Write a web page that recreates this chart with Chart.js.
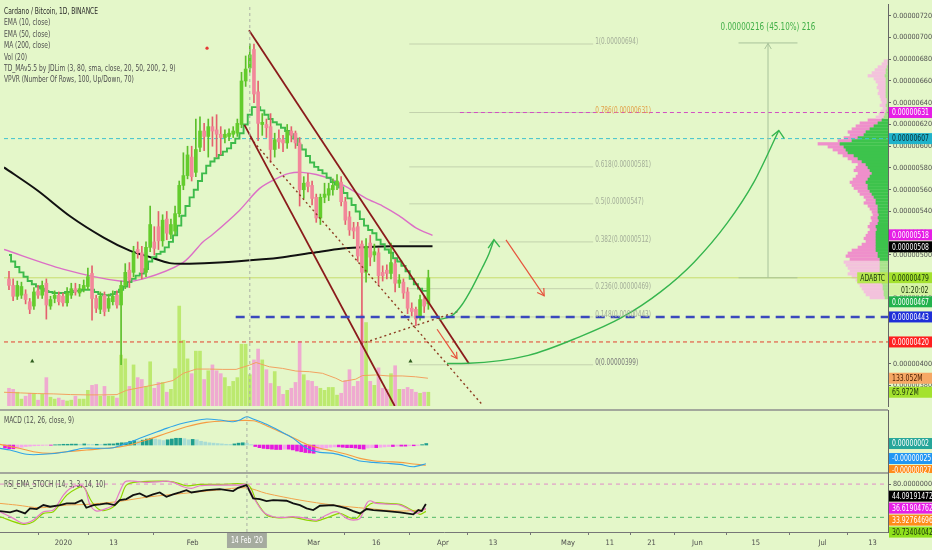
<!DOCTYPE html>
<html lang="en">
<head>
<meta charset="utf-8">
<title>Cardano / Bitcoin, 1D, BINANCE</title>
<script src="https://cdn.jsdelivr.net/npm/chart.js@4.4.1/dist/chart.umd.min.js"></script>
<style>
    html, body { margin: 0; padding: 0; background: #e4f7c9; }
    #stage {
        position: relative; width: 932px; height: 550px; overflow: hidden; background: #e4f7c9;
        font-family: 'Liberation Sans Narrow', 'DejaVu Sans Condensed', sans-serif;
    }
    .pane { position: absolute; left: 0; width: 932px; z-index: 2; }
    #profilePane { left: 768px; width: 120px; top: 0; height: 410px; z-index: 1; }
    #mainPane { top: 0; height: 410px; }
    #macdPane { top: 410px; height: 63px; }
    #rsiPane { top: 473px; height: 77px; }
    .sep { position: absolute; left: 0; width: 888px; height: 2px; background: #a3a89c; z-index: 3; }
    .caption {
        position: absolute; left: 4px; z-index: 4; font-size: 8.5px; line-height: 11.4px;
        color: #505050; white-space: nowrap; transform: scaleX(0.78); transform-origin: 0 0;
    }
    .caption .title { color: #2a2a2a; }
</style>
</head>
<body>
<div id="stage">
    <div class="pane" id="profilePane"><canvas id="profileChart"></canvas></div>
    <div class="pane" id="mainPane"><canvas id="mainChart"></canvas></div>
    <div class="pane" id="macdPane"><canvas id="macdChart"></canvas></div>
    <div class="pane" id="rsiPane"><canvas id="rsiChart"></canvas></div>
    <div class="sep" style="top:409px"></div>
    <div class="sep" style="top:472px"></div>
    <div class="caption" style="top:6px">
        <div class="title">Cardano / Bitcoin, 1D, BINANCE</div>
        <div>EMA (10, close)</div>
        <div>EMA (50, close)</div>
        <div>MA (200, close)</div>
        <div>Vol (20)</div>
        <div>TD_MAv5.5 by JDLim (3, 80, sma, close, 20, 50, 200, 2, 9)</div>
        <div>VPVR (Number Of Rows, 100, Up/Down, 70)</div>
    </div>
    <div class="caption" style="top:415px">MACD (12, 26, close, 9)</div>
    <div class="caption" style="top:479px">RSI_EMA_STOCH (14, 3, 3, 14, 10)</div>
</div>

<script>
// x values are days counted from 1 Jan 2020, prices are in satoshi (1e-8 BTC)
const FIRST_DAY = -14;

const opens = [
    478, 472, 462, 463, 464, 457, 453, 467, 463, 474,
    453, 460, 463, 462, 456, 463, 469, 465, 469, 471,
    483, 460, 450, 463, 451, 457, 463, 454, 472, 486,
    484, 505, 502, 484, 507, 512, 526, 513, 533, 519,
    522, 538, 564, 573, 590, 576, 599, 614, 609, 618,
    615, 611, 608, 609, 611, 612, 620, 660, 672, 689,
    650, 620, 620, 618, 597, 607, 606, 603, 614, 612,
    603, 560, 567, 564, 553, 534, 553, 555, 560, 564,
    567, 549, 535, 525, 526, 510, 484, 511, 500, 502,
    484, 486, 483, 492, 474, 475, 466, 451, 450, 444,
    459, 455
];
const highs = [
    485, 478, 476, 475, 468, 460, 470, 472, 476, 478,
    462, 467, 466, 465, 470, 474, 474, 473, 477, 488,
    490, 463, 466, 466, 464, 467, 467, 476, 492, 493,
    508, 512, 508, 512, 545, 526, 540, 537, 540, 533,
    545, 568, 594, 600, 600, 625, 627, 621, 625, 627,
    629, 618, 615, 616, 618, 625, 668, 683, 694, 694,
    660, 630, 625, 630, 612, 615, 610, 620, 618, 614,
    608, 572, 575, 568, 556, 556, 566, 566, 570, 574,
    572, 553, 540, 530, 530, 513, 515, 518, 510, 506,
    490, 491, 511, 496, 482, 478, 470, 456, 452, 463,
    462, 486
];
const lows = [
    468, 458, 459, 460, 455, 446, 450, 460, 460, 441,
    450, 456, 454, 453, 453, 460, 463, 462, 466, 468,
    440, 447, 446, 444, 448, 454, 451, 399, 469, 470,
    480, 497, 478, 480, 503, 500, 505, 508, 514, 515,
    518, 535, 560, 570, 568, 572, 595, 596, 590, 600,
    590, 592, 603, 605, 608, 609, 617, 655, 668, 640,
    605, 610, 608, 585, 590, 598, 595, 598, 604, 598,
    545, 552, 558, 546, 530, 528, 548, 550, 555, 560,
    545, 528, 518, 515, 494, 418, 475, 490, 494, 472,
    476, 478, 478, 466, 470, 460, 446, 444, 435, 440,
    447, 450
];
const closes = [
    472, 462, 472, 471, 459, 450, 466, 463, 472, 454,
    459, 463, 457, 456, 465, 469, 466, 469, 472, 480,
    460, 451, 462, 448, 460, 462, 454, 472, 484, 477,
    502, 502, 484, 507, 528, 506, 513, 532, 520, 528,
    538, 564, 573, 592, 572, 597, 614, 609, 618, 614,
    611, 608, 611, 612, 614, 621, 660, 671, 684, 648,
    621, 622, 617, 597, 606, 604, 603, 614, 610, 603,
    560, 566, 563, 552, 534, 553, 556, 561, 564, 568,
    549, 532, 523, 522, 499, 484, 508, 498, 503, 481,
    481, 483, 493, 474, 477, 465, 451, 448, 441, 459,
    453, 479
];
// volume in millions of ADA
const volumes = [
    85, 80, 66, 33, 47, 61, 61, 28, 56, 136,
    42, 33, 38, 28, 24, 28, 47, 33, 33, 75,
    99, 103, 47, 94, 47, 47, 38, 244, 226, 94,
    197, 136, 127, 94, 212, 85, 113, 113, 66, 80,
    179, 479, 315, 226, 155, 263, 263, 127, 169, 197,
    169, 155, 136, 94, 118, 136, 296, 296, 150, 221,
    273, 221, 174, 108, 165, 94, 56, 75, 85, 113,
    310, 150, 122, 118, 94, 85, 75, 89, 89, 52,
    61, 122, 174, 94, 118, 437, 400, 118, 99, 183,
    85, 80, 155, 193, 80, 80, 89, 80, 66, 61,
    66, 65.972
];
const ema10 = [
    500, 494, 489, 484, 480, 476, 473, 471, 469, 467,
    466, 465, 465, 465, 466, 466, 467, 467, 468, 468,
    468, 466, 464, 463, 463, 464, 466, 468, 471, 475,
    478, 481, 483, 487, 494, 498, 501, 503, 507, 512,
    518, 527, 536, 545, 553, 560, 568, 575, 582, 586,
    589, 592, 595, 598, 603, 607, 612, 620, 629, 636,
    636, 633, 629, 625, 622, 620, 617, 614, 611, 607,
    601, 597, 591, 585, 581, 578, 575, 571, 567, 565,
    562, 557, 552, 546, 540, 533, 527, 523, 520, 514,
    510, 505, 502, 497, 494, 490, 485, 478, 473, 469,
    467, 467
];
const ema50 = [
    [-15.2, 505], [-1, 487], [12.7, 476], [18.3, 478], [27.9, 493], [32.7, 512], [35.1, 519],
    [41.5, 541], [46.3, 561], [50.3, 570], [53.5, 575], [56.5, 576], [60, 574], [64, 569],
    [68, 561], [72, 552], [76, 545], [80, 536], [84, 525], [88, 518]
];
const ma200 = [
    [-15.2, 580.5], [-7.2, 559.5], [0.8, 535.4], [8.8, 516], [15.1, 504], [20, 498], [24.7, 492.5],
    [29.5, 492], [36.7, 493], [47.1, 496], [52, 498], [59.1, 502], [66.3, 506], [71.1, 507],
    [78.3, 508], [88, 508]
];
const volMa = [
    [-15.2, 65.8], [-11.2, 62.7], [-7.2, 59.5], [-3.2, 58], [0.8, 54.8], [4.8, 53.3], [8.8, 53.3],
    [12, 54.8], [14.3, 75.2], [18.3, 90.9], [22.3, 106.5], [25.5, 122.2], [28, 156.7], [31.1, 177],
    [34.3, 177], [37.5, 175.5], [40.7, 175.5], [43.9, 195.8], [45.5, 208.4], [48.7, 188],
    [51.9, 180.2], [55.1, 167.6], [58.3, 164.5], [61.5, 156.7], [64.7, 133.2], [66.3, 117.5],
    [69.5, 128.5], [71.1, 145.7], [74.3, 148.8], [77.5, 144.1], [80.7, 144.1], [83.9, 140],
    [86.9, 133.052]
];

// MACD pane (values in satoshi)
const macdLine = [
    [-15.2, -4.4], [-12.8, -6.7], [-8.8, -12.4], [-4.8, -12.4], [0.8, -8.9], [4.8, -4.4], [8.8, -4.4],
    [12, -3.6], [15.1, 2.2], [18.3, 8.9], [21.5, 15.6], [24.7, 22.2], [27.9, 28], [31.1, 32],
    [34.3, 34.7], [37.5, 33.3], [40.7, 31.1], [42.3, 33.3], [43.9, 37.8], [45.5, 34.7], [48.7, 27.6],
    [51.9, 18.7], [55.1, 8.9], [58.3, -4.4], [61.5, -9.8], [64.7, -11.1], [67.9, -15.6], [71.1, -21.3],
    [74.3, -23.1], [77.5, -24.4], [80.7, -25.8], [83.9, -28.9], [86.9, -25]
];
const macdSignal = [
    [-15.2, 0.9], [-11.2, -3.6], [-7.2, -8.9], [-3.2, -11.1], [0.8, -8.9], [5.6, -6.7], [10.4, -4.4],
    [15.1, -0.9], [19.9, 6.7], [24.7, 15.6], [29.5, 24.4], [34.3, 30.2], [39.1, 32], [45.5, 32.4],
    [48.7, 25.8], [51.9, 17.8], [55.1, 9.8], [58.3, 0.9], [61.5, -4.4], [64.7, -8], [67.9, -12.4],
    [71.1, -17.8], [74.3, -20.9], [77.5, -22.2], [80.7, -23.1], [83.9, -25.3], [86.9, -27]
];
const macdHist = [
    -4, -5, -5, -4, -3, -2, -1.5, -1, -0.8, -0.5,
    -0.3, -0.3, 0.3, 0.5, 1, 1, 1.2, 1.2, 1, 1.5,
    1, 0.8, 1, 0.8, 1.2, 1.5, 1.5, 2.5, 3, 3,
    5, 6, 5.5, 6.5, 8, 9, 8, 7, 6, 7,
    8, 9, 9, 8.5, 7, 7.5, 7, 5, 4, 3,
    2.5, 2, 1.5, 1, 0.8, 1.5, 2.5, 3, 2.5, 0.5,
    -2, -3.5, -4.5, -5, -5.5, -6, -6, -5.5, -5.5, -6.5,
    -8, -9, -10, -10.5, -11, -8, -6, -4, -3, -2.5,
    -2.5, -3, -3.5, -3.5, -4, -5, -5.5, -4, -3.5, -3.5,
    -3, -2.5, -2, -2, -1.5, -1.5, -1.5, -1, -1, -0.5,
    0.5, 2
];

// RSI / stochastic pane
const rsiLine = [
    [-15.2, 31.3], [-12.8, 29], [-11.2, 32.5], [-9.2, 27.1], [-8, 36.1], [-6.4, 34.9], [-4.8, 42.1],
    [-3.2, 39.1], [-0.8, 42.1], [0.8, 45.1], [2.8, 45.1], [4.4, 51.1], [5.5, 37.3], [7.2, 42.1],
    [8.8, 43.3], [10.4, 45.1], [12.3, 42.1], [13.5, 51.1], [15.1, 52.9], [16.7, 60.1], [18.3, 63.1],
    [19.9, 57.1], [21.5, 61.3], [23.1, 64.9], [24.7, 57.1], [26.3, 61.3], [27.9, 64.9], [29.5, 69.1],
    [30.7, 64.9], [32.7, 67.3], [34.3, 69.1], [37.5, 70.9], [40.7, 67.3], [41.9, 73.3], [43.9, 78.2],
    [45.5, 54.1], [47.1, 52.9], [48.7, 49.3], [50.3, 51.1], [53.5, 49.9], [55.1, 45.1], [56.7, 42.1],
    [58.3, 36.1], [59.9, 33.1], [61.5, 40.9], [64.7, 42.1], [66.3, 39.1], [67.9, 36.1], [69.5, 31.3],
    [71.1, 27.1], [72.7, 34.9], [74.3, 33.1], [77.5, 31.3], [80.7, 28.9], [83.9, 25.3], [85.1, 33.1],
    [85.9, 31.3], [86.9, 44.09191472]
];
const stochK = [
    [-15.2, 30.1], [-12, 18.1], [-9.6, 9.1], [-7.2, 15.1], [-4.8, 30.1], [-2.4, 33.1], [0, 60.1],
    [1.6, 72.1], [4, 78.2], [5.2, 72.1], [6.4, 42.1], [8, 31.3], [10.4, 36.1], [12, 42.1], [13.5, 66.1],
    [14.8, 84.2], [16.7, 85.4], [20, 83], [23.1, 84.2], [24.7, 85.4], [26.3, 83], [28.7, 75.2],
    [30.7, 72.1], [32.7, 77], [35.9, 78.2], [42.3, 78.2], [43.9, 79.4], [45.5, 57.1], [47.9, 30.1],
    [50.3, 21.1], [52.7, 19.9], [55.1, 21.1], [58.3, 18.1], [60.7, 15.1], [63.1, 24.1], [65.5, 30.1],
    [67.9, 18.1], [69.5, 15.1], [71.1, 18.1], [72.7, 45.1], [73.5, 49.9], [75.1, 45.1], [77.5, 43.9],
    [80.7, 42.1], [83.1, 33.1], [84.7, 27.1], [86.9, 36.61904762]
];
const stochD = [
    [-15.2, 21.1], [-9.6, 7.3], [-7.2, 12.1], [-4.8, 27.1], [-2.4, 30.1], [0.8, 60.1], [3.2, 72.1],
    [4.8, 75.2], [6.8, 48.1], [8.8, 33.1], [11.1, 34.9], [13.5, 51.1], [15.1, 78.2], [18.3, 84.2],
    [23.1, 85.4], [26.3, 84.2], [29.5, 77], [32.7, 79.4], [37.5, 79.4], [44.3, 78.2], [46.3, 48.1],
    [48.7, 24.1], [51.1, 19.3], [55.1, 19.9], [58.3, 15.1], [60.7, 13.3], [63.9, 21.1], [66.3, 27.1],
    [68.7, 19.3], [70.3, 18.1], [72.7, 39.1], [74.3, 46.3], [77.5, 45.1], [80.7, 43.3], [83.9, 31.3],
    [85.5, 25.3], [86.9, 30.73404042]
];
const rsiEma = [
    [-15.2, 45.1], [-11.2, 42.1], [-5.6, 37.3], [0.8, 42.1], [5.6, 43.3], [12.7, 48.1], [20.7, 57.1],
    [28.7, 63.1], [36.7, 69.1], [43.9, 73.3], [48.7, 63.1], [56.7, 51.1], [64.7, 42.1], [72.7, 36.1],
    [80.7, 31.3], [86.9, 33.92764696]
];
const rsiBands = [80, 20];

// volume profile rows (bottom row price, step) with up / down volume per row
const PROFILE_LOW = 452;
const PROFILE_STEP = 3;
const profileUp = [
    3, 4, 4, 5, 5, 6, 6, 6, 8, 8, 8, 8, 8, 8, 10, 10, 12, 12, 12, 12,
    12, 12, 12, 11, 12, 10, 9, 10, 9, 10, 10, 10, 12, 12, 14, 16, 18, 20, 20, 22,
    20, 18, 16, 18, 20, 22, 26, 30, 34, 40, 42, 44, 48, 36, 30, 24, 22, 18, 14, 10,
    6, 4, 3, 2, 1, 2, 1, 1, 2, 2, 2, 2, 2, 2, 2, 3, 2, 2, 1, 0, 0
];
const profileDown = [
    15, 18, 20, 21, 23, 24, 26, 30, 32, 30, 32, 34, 36, 30, 32, 30, 24, 18, 14, 10,
    12, 10, 8, 7, 8, 8, 7, 7, 6, 6, 8, 10, 12, 10, 10, 12, 12, 14, 16, 16,
    15, 14, 14, 16, 12, 8, 10, 10, 11, 10, 13, 16, 22, 14, 14, 14, 18, 18, 18, 18,
    14, 8, 6, 5, 4, 6, 5, 6, 6, 8, 7, 9, 8, 10, 12, 17, 14, 11, 9, 6, 4
];

// horizontal levels drawn on the chart
const levelPrices = [631, 607, 443, 420];
const levelStarts = [94.6, null, 40.6, null];
const levelColors = ['#d24fc4', '#3fc3cf', '#3a48bd', '#e2402f'];
const fibRatios = [1, 0.786, 0.618, 0.5, 0.382, 0.236, 0.148, 0];
const fibPrices = [694, 631, 581, 547, 512, 469, 443, 399];
const FIB_FROM = 82.4;
const FIB_TO = 126.7;

// hand drawn trend lines and arrows
const channelUpper = [[43.8, 706.7], [96.8, 399.9]];
const channelLower = [[42.7, 619.6], [78.9, 361.1]];
const channelMid = [[44.1, 607.6], [99.9, 362.6]];
const crashSupport = [[70.7, 418.2], [94.3, 448.3]];
const bounceCurve = [[89.6, 440.6], [92.7, 444.2], [95.1, 454.2], [97.5, 469.5], [99.9, 487.6], [101.6, 501.1], [102.8, 514]];
const bounceHead = [[101.4, 506.3], [102.8, 514], [104.2, 507.2]];
const targetCurve = [[91.5, 400.2], [96.7, 400.4], [111.1, 407.7], [123.1, 424.2], [133.5, 442.3], [143, 466.3], [151, 493.4], [159, 529.5], [165.4, 567], [171.4, 614.5]];
const targetHead = [[169.7, 609.1], [171.4, 614.5], [172.7, 607.3]];
const dropArrow = [[105.7, 513.8], [114.9, 462.4]];
const dropHead = [[114.8, 469.6], [114.9, 462.4], [113.2, 465.5]];
const dipArrow = [[89.1, 431.7], [93.9, 404.7]];
const dipHead = [[93.8, 411], [93.9, 404.7], [92.4, 407.5]];
const measureSpan = [161.7, 175.9];
const measureDay = 168.8;
const measurePrices = [479, 695];
const measureHead = [[168, 689.4], [168.8, 694.5], [169.6, 689.4]];
const MEASURE_TEXT = '0.00000216 (45.10%) 216';
const tdDots = [[33.7, 690.2]];
const tdTriangles = [[-8.4, 402.3], [82.7, 402.3]];

// bottom axis
const tickDays = [0, 12, 31, 60, 75, 91, 103, 121, 131, 141, 152, 166, 182, 194];
const tickLabels = ['2020', '13', 'Feb', 'Mar', '16', 'Apr', '13', 'May', '11', '21', 'Jun', '15', 'Jul', '13'];
const CROSS_DAY = 44;
const CROSS_LABEL = "14 Feb '20";
const COUNTDOWN = '01:20:02';

// view ranges
const X_MIN = -15.2;
const X_MAX = 197.7;
const PRICE_MIN = 361.1;
const PRICE_MAX = 730.8;
const VOL_MAX = 1927;
const MACD_MIN = -37.3;
const MACD_MAX = 46.7;
const RSI_MIN = -6.5;
const RSI_MAX = 100;

const FONT = "'Liberation Sans Narrow', 'DejaVu Sans Condensed', sans-serif";
const SQUEEZE = 0.8;   // no narrow face installed, so canvas text is squeezed sideways
const AXIS_W = 44;
const BOX_H = 11;
const BOX_STEP = 12;

const fmtSat = v => (v / 1e8).toFixed(8);
const pts = pairs => pairs.map(([x, y]) => ({ x, y }));
const last = arr => arr[arr.length - 1];

function squeezedText(ctx, text, x, y, align = 'left') {
    ctx.save();
    ctx.translate(x, y);
    ctx.scale(SQUEEZE, 1);
    ctx.textAlign = align;
    ctx.fillText(text, 0, 0);
    ctx.restore();
}

// keeps price tags from overlapping; a pinned tag stays on its value
function placeBoxes(items, step) {
    items.sort((a, b) => a.target - b.target);
    const groups = items.map(it => [it]);
    const layout = g => {
        const pin = g.findIndex(it => it.pinned);
        const top = pin >= 0
            ? g[pin].target - pin * step
            : g.reduce((s, it) => s + it.target, 0) / g.length - (g.length - 1) * step / 2;
        g.forEach((it, i) => { it.pos = top + i * step; });
    };
    let merged = true;
    while (merged) {
        merged = false;
        groups.forEach(layout);
        for (let i = 0; i < groups.length - 1; i++) {
            const a = groups[i];
            const b = groups[i + 1];
            if (a[a.length - 1].pos + step > b[0].pos) {
                groups.splice(i, 2, a.concat(b));
                merged = true;
                break;
            }
        }
    }
    groups.forEach(layout);
}

const axisBoxesPlugin = {
    id: 'axisBoxes',
    afterDraw(chart, args, opts) {
        const items = (opts.items || []).map(item => ({
            ...item,
            target: chart.scales[item.axis || 'y'].getPixelForValue(item.value)
        }));
        placeBoxes(items, BOX_STEP);
        const { ctx, chartArea } = chart;
        const left = chartArea.right + 1;
        ctx.save();
        ctx.font = `8.5px ${FONT}`;
        ctx.textBaseline = 'middle';
        items.forEach(item => {
            const top = item.pos - BOX_H / 2;
            ctx.fillStyle = item.bg;
            ctx.fillRect(left, top, chart.width - left, BOX_H);
            ctx.fillStyle = item.color;
            squeezedText(ctx, item.text, left + (item.indent || 3), item.pos + 0.5);
            if (item.tag) {
                const w = ctx.measureText(item.tag).width * SQUEEZE + 6;
                ctx.fillStyle = item.tagBg;
                ctx.fillRect(left - 1 - w, top, w, BOX_H);
                ctx.fillStyle = item.color;
                squeezedText(ctx, item.tag, left - 1 - w + 3, item.pos + 0.5);
            }
        });
        ctx.restore();
    }
};

const textLabelsPlugin = {
    id: 'textLabels',
    afterDatasetsDraw(chart, args, opts) {
        const { ctx, scales } = chart;
        ctx.save();
        (opts.items || []).forEach(item => {
            const x = scales.x.getPixelForValue(item.x) + (item.dx || 0);
            const y = scales.y.getPixelForValue(item.y) + (item.dy || 0);
            ctx.font = `${item.size || 8}px ${FONT}`;
            ctx.fillStyle = item.color;
            ctx.textBaseline = item.baseline || 'middle';
            squeezedText(ctx, item.text, x, y, item.align || 'left');
        });
        ctx.restore();
    }
};

const dateMarkerPlugin = {
    id: 'dateMarker',
    afterDraw(chart, args, opts) {
        if (!opts.text) return;
        const { ctx, chartArea } = chart;
        const x = chart.scales.x.getPixelForValue(opts.value);
        ctx.save();
        ctx.font = `8.5px ${FONT}`;
        const w = ctx.measureText(opts.text).width * SQUEEZE + 8;
        const top = chartArea.bottom + 1;
        ctx.fillStyle = '#a5ab9f';
        ctx.fillRect(x - w / 2, top, w, 15);
        ctx.fillStyle = '#ffffff';
        ctx.textBaseline = 'middle';
        squeezedText(ctx, opts.text, x, top + 7.5, 'center');
        ctx.restore();
    }
};

function fitRightAxis(scale) {
    scale.width = AXIS_W;
    scale.paddingTop = 0;
    scale.paddingBottom = 0;
}

function lineSet(data, color, width, extra = {}) {
    return Object.assign({
        type: 'line',
        data,
        borderColor: color,
        borderWidth: width,
        pointRadius: 0,
        fill: false,
        tension: 0,
        order: 10
    }, extra);
}

class AdaBtcChart {
    constructor() {
        this.charts = {};
        this.days = opens.map((_, i) => FIRST_DAY + i);
        this.init();
    }

    init() {
        Chart.defaults.font.family = FONT;
        Chart.defaults.font.size = 7.2;
        Chart.defaults.color = '#4d4d4d';
        this.createProfileChart();
        this.createMainChart();
        this.createMacdChart();
        this.createRsiChart();
    }

    baseOptions() {
        return {
            responsive: true,
            maintainAspectRatio: false,
            animation: false,
            events: [],
            layout: { padding: 0 },
            plugins: { legend: { display: false }, tooltip: { enabled: false } }
        };
    }

    crosshair(min, max) {
        return lineSet(pts([[CROSS_DAY, min], [CROSS_DAY, max]]), '#aab0a4', 1, { borderDash: [3, 3], order: 1 });
    }

    createProfileChart() {
        const rows = profileUp.map((_, i) => PROFILE_LOW + i * PROFILE_STEP);
        const totals = profileUp.map((u, i) => u + profileDown[i]);
        const sum = totals.reduce((a, b) => a + b, 0);

        // 70% value area grown outwards from the point of control
        let lo = totals.indexOf(Math.max(...totals));
        let hi = lo;
        let acc = totals[lo];
        while (acc < sum * 0.7 && (lo > 0 || hi < totals.length - 1)) {
            const below = lo > 0 ? totals[lo - 1] : -1;
            const above = hi < totals.length - 1 ? totals[hi + 1] : -1;
            if (above >= below) { hi++; acc += totals[hi]; } else { lo--; acc += totals[lo]; }
        }
        const inArea = i => i >= lo && i <= hi;

        const options = this.baseOptions();
        options.indexAxis = 'y';
        options.scales = {
            x: { type: 'linear', display: false, reverse: true, min: 0, max: 120, stacked: true },
            y: { type: 'linear', display: false, min: PRICE_MIN, max: PRICE_MAX, stacked: true }
        };

        this.charts.profile = new Chart(document.getElementById('profileChart'), {
            type: 'bar',
            data: {
                datasets: [
                    {
                        data: rows.map((p, i) => ({ x: profileUp[i], y: p })),
                        backgroundColor: rows.map((_, i) => inArea(i) ? '#3dc34c' : '#a9e28c'),
                        barThickness: 2.6
                    },
                    {
                        data: rows.map((p, i) => ({ x: profileDown[i], y: p })),
                        backgroundColor: rows.map((_, i) => inArea(i) ? '#ef8fcb' : '#f3c2dc'),
                        barThickness: 2.6
                    }
                ]
            },
            options
        });
    }

    createMainChart() {
        const days = this.days;
        const up = days.map((_, i) => closes[i] >= opens[i]);
        const lastClose = last(closes);

        const datasets = [];

        // volume overlay
        datasets.push({
            type: 'bar',
            yAxisID: 'vol',
            data: days.map((d, i) => ({ x: d, y: volumes[i] })),
            backgroundColor: up.map(u => u ? '#bce96f' : '#efaad0'),
            barThickness: 3,
            grouped: false,
            order: 100
        });
        datasets.push(lineSet(pts(volMa), '#f2a160', 1, { yAxisID: 'vol', order: 95 }));

        // horizontal levels and price line
        levelPrices.forEach((p, i) => {
            const from = levelStarts[i] === null ? X_MIN : levelStarts[i];
            const blue = i === 2;
            datasets.push(lineSet(pts([[from, p], [X_MAX, p]]), levelColors[i], blue ? 2.5 : 1, {
                borderDash: blue ? [9, 6] : [4, 3],
                order: blue ? 8 : 90
            }));
        });
        datasets.push(lineSet(pts([[X_MIN, lastClose], [X_MAX, lastClose]]), '#c8dc6c', 1, { order: 91 }));

        // fibonacci retracement
        fibPrices.forEach(p => {
            datasets.push(lineSet(pts([[FIB_FROM, p], [FIB_TO, p]]), '#c3d2ad', 1, { order: 92 }));
        });

        // moving averages
        datasets.push(lineSet(pts(ma200), '#111111', 2, { tension: 0.3, order: 60 }));
        datasets.push(lineSet(pts(ema50), '#dc6fc6', 1.4, { tension: 0.3, order: 61 }));
        datasets.push(lineSet(days.map((d, i) => ({ x: d, y: ema10[i] })), '#3dbb4b', 1.9, { stepped: 'middle', order: 55 }));

        // candles
        datasets.push({
            type: 'bar',
            data: days.map((d, i) => ({ x: d, y: [lows[i], highs[i]] })),
            backgroundColor: up.map(u => u ? '#5cbf2a' : '#e4606e'),
            barThickness: 1,
            grouped: false,
            order: 50
        });
        datasets.push({
            type: 'bar',
            data: days.map((d, i) => ({ x: d, y: [opens[i], closes[i]] })),
            backgroundColor: up.map(u => u ? '#63cc2c' : '#f2879a'),
            barThickness: 3,
            minBarLength: 1,
            grouped: false,
            order: 49
        });

        // channel drawings
        datasets.push(lineSet(pts(channelUpper), '#8a1b1b', 1.8, { order: 20 }));
        datasets.push(lineSet(pts(channelLower), '#8a1b1b', 1.8, { order: 20 }));
        datasets.push(lineSet(pts(channelMid), '#8d3d22', 1.4, { borderDash: [2, 3], order: 20 }));
        datasets.push(lineSet(pts(crashSupport), '#8d3d22', 1.4, { borderDash: [2, 3], order: 20 }));

        // projected moves
        const curve = { cubicInterpolationMode: 'monotone', order: 10 };
        datasets.push(lineSet(pts(bounceCurve), '#35b54e', 1.4, curve));
        datasets.push(lineSet(pts(bounceHead), '#35b54e', 1.4));
        datasets.push(lineSet(pts(targetCurve), '#35b54e', 1.4, curve));
        datasets.push(lineSet(pts(targetHead), '#35b54e', 1.4));
        datasets.push(lineSet(pts(dropArrow), '#e6533c', 1.2));
        datasets.push(lineSet(pts(dropHead), '#e6533c', 1.2));
        datasets.push(lineSet(pts(dipArrow), '#e6533c', 1.2));
        datasets.push(lineSet(pts(dipHead), '#e6533c', 1.2));

        // price range measurement
        measurePrices.forEach(p => {
            datasets.push(lineSet(pts([[measureSpan[0], p], [measureSpan[1], p]]), '#a8c29a', 1));
        });
        datasets.push(lineSet(pts([[measureDay, measurePrices[0]], [measureDay, measurePrices[1]]]), '#a8c29a', 1));
        datasets.push(lineSet(pts(measureHead), '#a8c29a', 1));

        // TD markers
        datasets.push(lineSet(pts(tdDots), '#e53935', 0, { showLine: false, pointRadius: 1.6, pointBackgroundColor: '#e53935', pointBorderWidth: 0, order: 5 }));
        datasets.push(lineSet(pts(tdTriangles), '#2f5d1e', 0, { showLine: false, pointStyle: 'triangle', pointRadius: 2.4, pointBackgroundColor: '#2f5d1e', pointBorderWidth: 0, order: 5 }));

        datasets.push(this.crosshair(PRICE_MIN, PRICE_MAX));

        const labels = fibRatios.map((r, i) => ({
            x: FIB_TO, y: fibPrices[i], dx: 2, dy: 2, baseline: 'bottom',
            text: `${r}(${fmtSat(fibPrices[i])})`,
            color: r === 0.786 ? '#e2a24a' : (r === 0 ? '#7a7a7a' : '#a4ae99')
        }));
        labels.push({
            x: measureDay, y: measurePrices[1], dy: -16, align: 'center', size: 10,
            text: MEASURE_TEXT, color: '#43b049'
        });

        const boxes = [
            { value: levelPrices[0], text: fmtSat(levelPrices[0]), bg: '#e61ee6', color: '#ffffff' },
            { value: levelPrices[1], text: fmtSat(levelPrices[1]), bg: '#1fb3cb', color: '#0b2b33' },
            { value: last(ema50)[1], text: fmtSat(last(ema50)[1]), bg: '#e61ee6', color: '#ffffff' },
            { value: last(ma200)[1], text: fmtSat(last(ma200)[1]), bg: '#000000', color: '#ffffff' },
            { value: lastClose, text: fmtSat(lastClose), bg: '#a4e22e', color: '#17300a', pinned: true, tag: 'ADABTC', tagBg: '#b6e650' },
            { value: lastClose, text: COUNTDOWN, bg: '#d3f2a0', color: '#17300a', indent: 12 },
            { value: last(ema10), text: fmtSat(last(ema10)), bg: '#22b24c', color: '#ffffff' },
            { value: levelPrices[2], text: fmtSat(levelPrices[2]), bg: '#1f2fd8', color: '#ffffff' },
            { value: levelPrices[3], text: fmtSat(levelPrices[3]), bg: '#ff1f1f', color: '#ffffff' },
            { value: last(volMa)[1], axis: 'vol', text: `${last(volMa)[1].toFixed(3)}M`, bg: '#f6a865', color: '#4a1d00' },
            { value: last(volumes), axis: 'vol', text: `${last(volumes).toFixed(3)}M`, bg: '#a4e22e', color: '#17300a' }
        ];

        const options = this.baseOptions();
        options.plugins.axisBoxes = { items: boxes };
        options.plugins.textLabels = { items: labels };
        options.scales = {
            x: { type: 'linear', min: X_MIN, max: X_MAX, offset: false, display: false },
            y: {
                type: 'linear', position: 'right', min: PRICE_MIN, max: PRICE_MAX,
                afterFit: fitRightAxis,
                ticks: { stepSize: 20, includeBounds: false, padding: 2, color: '#505050', callback: v => fmtSat(v) },
                grid: { drawOnChartArea: false, tickLength: 3, color: '#666' },
                border: { color: '#666' }
            },
            vol: { type: 'linear', display: false, min: 0, max: VOL_MAX }
        };

        this.charts.main = new Chart(document.getElementById('mainChart'), {
            type: 'bar',
            data: { datasets },
            options,
            plugins: [axisBoxesPlugin, textLabelsPlugin]
        });
    }

    createMacdChart() {
        const days = this.days;
        const histColors = macdHist.map((v, i) => {
            const prev = i > 0 ? macdHist[i - 1] : v;
            if (v >= 0) return v >= prev ? '#1f9e8e' : '#a9dcd4';
            return v <= prev ? '#e619e0' : '#f6a8ec';
        });

        const datasets = [
            {
                type: 'bar',
                data: days.map((d, i) => ({ x: d, y: macdHist[i] })),
                backgroundColor: histColors,
                barThickness: 3,
                grouped: false,
                order: 20
            },
            lineSet(pts(macdSignal), '#f59b42', 1.1, { tension: 0.3, order: 3 }),
            lineSet(pts(macdLine), '#2fa4e7', 1.1, { tension: 0.3, order: 2 }),
            this.crosshair(MACD_MIN, MACD_MAX)
        ];

        const boxes = [
            { value: last(macdHist), text: fmtSat(last(macdHist)), bg: '#26a69a', color: '#ffffff' },
            { value: last(macdLine)[1], text: fmtSat(last(macdLine)[1]), bg: '#2196f3', color: '#ffffff' },
            { value: last(macdSignal)[1], text: fmtSat(last(macdSignal)[1]), bg: '#ff8c1a', color: '#ffffff' }
        ];

        const options = this.baseOptions();
        options.plugins.axisBoxes = { items: boxes };
        options.scales = {
            x: { type: 'linear', min: X_MIN, max: X_MAX, offset: false, display: false },
            y: {
                type: 'linear', position: 'right', min: MACD_MIN, max: MACD_MAX,
                afterFit: fitRightAxis,
                ticks: { display: false },
                grid: { display: false },
                border: { color: '#666' }
            }
        };

        this.charts.macd = new Chart(document.getElementById('macdChart'), {
            type: 'bar',
            data: { datasets },
            options,
            plugins: [axisBoxesPlugin]
        });
    }

    createRsiChart() {
        const datasets = [
            lineSet(pts([[X_MIN, rsiBands[0]], [X_MAX, rsiBands[0]]]), '#e08bc8', 1, { borderDash: [4, 4], order: 30 }),
            lineSet(pts([[X_MIN, rsiBands[1]], [X_MAX, rsiBands[1]]]), '#52b866', 1, { borderDash: [4, 4], order: 30 }),
            lineSet(pts(rsiEma), '#f2a24c', 1, { tension: 0.3, order: 6 }),
            lineSet(pts(stochD), '#8fd400', 1.2, { tension: 0.3, order: 5 }),
            lineSet(pts(stochK), '#e57ac8', 1.2, { tension: 0.3, order: 4 }),
            lineSet(pts(rsiLine), '#111111', 1.8, { order: 2 }),
            this.crosshair(RSI_MIN, RSI_MAX)
        ];

        // the stochastic %K tag keeps its place, the others stack around it
        const boxes = [
            { value: last(rsiLine)[1], text: last(rsiLine)[1].toFixed(8), bg: '#000000', color: '#ffffff' },
            { value: last(stochK)[1], text: last(stochK)[1].toFixed(8), bg: '#e61ee6', color: '#ffffff', pinned: true },
            { value: last(rsiEma)[1], text: last(rsiEma)[1].toFixed(8), bg: '#ff8c1a', color: '#ffffff' },
            { value: last(stochD)[1], text: last(stochD)[1].toFixed(8), bg: '#8fe01b', color: '#17300a' }
        ];

        const options = this.baseOptions();
        options.plugins.axisBoxes = { items: boxes };
        options.plugins.dateMarker = { value: CROSS_DAY, text: CROSS_LABEL };
        options.scales = {
            x: {
                type: 'linear', min: X_MIN, max: X_MAX, offset: false,
                afterBuildTicks: scale => { scale.ticks = tickDays.map(value => ({ value })); },
                afterFit: scale => { scale.height = 18; scale.paddingLeft = 0; scale.paddingRight = 0; },
                ticks: { autoSkip: false, maxRotation: 0, padding: 4, color: '#4d4d4d', font: { size: 7.5 }, callback: (v, i) => tickLabels[i] },
                grid: { drawOnChartArea: false, tickLength: 3, color: '#777' },
                border: { color: '#777' }
            },
            y: {
                type: 'linear', position: 'right', min: RSI_MIN, max: RSI_MAX,
                afterBuildTicks: scale => { scale.ticks = [{ value: rsiBands[0] }]; },
                afterFit: fitRightAxis,
                ticks: { padding: 2, color: '#505050', callback: v => v.toFixed(8) },
                grid: { drawOnChartArea: false, tickLength: 3, color: '#666' },
                border: { color: '#666' }
            }
        };

        this.charts.rsi = new Chart(document.getElementById('rsiChart'), {
            type: 'bar',
            data: { datasets },
            options,
            plugins: [axisBoxesPlugin, dateMarkerPlugin]
        });
    }
}

window.adaChart = new AdaBtcChart();
</script>
</body>
</html>
